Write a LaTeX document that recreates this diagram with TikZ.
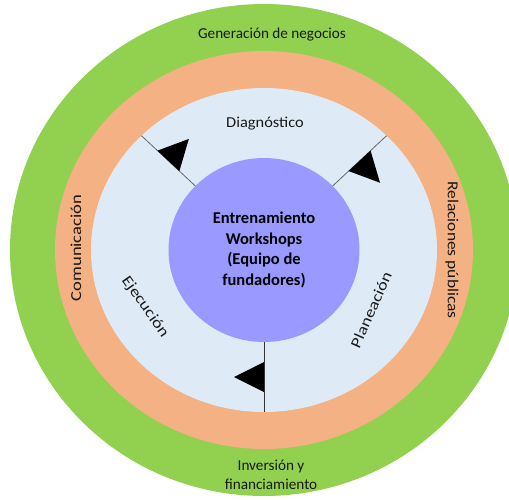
\documentclass[tikz,border=0pt]{standalone}
\usepackage{fontspec}
\setmainfont{Carlito}
\usetikzlibrary{shapes.geometric,calc}
\definecolor{ringgreen}{HTML}{92D050}
\definecolor{ringorange}{HTML}{F4B183}
\definecolor{ringblue}{HTML}{DEEBF7}
\definecolor{corepurple}{HTML}{9999FF}

\begin{document}
\begin{tikzpicture}[x=1pt, y=1pt,
		ringtext/.style={font=\fontsize{15.2}{19}\selectfont, text=black!90, inner sep=0pt, align=center},
		disc/.style={ellipse, inner sep=0pt, outer sep=0pt},
		spoke/.style={black!60, line width=0.8pt},
		flag/.style={fill=black}]
			\useasboundingbox (-264,-249) rectangle (245,250);
			\fill[ringgreen] (0,0) ellipse [x radius=254, y radius=246];
			\fill[ringorange] (0,0) ellipse [x radius=209, y radius=199];
			\node[disc, fill=ringblue, minimum width=346pt, minimum height=324pt] (phases) at (0,0) {};
			\node[disc, fill=corepurple, minimum width=191pt, minimum height=184pt, align=center, font=\bfseries\fontsize{16.5}{20.5}\selectfont] (core) at (0,0) {Entrenamiento\\Workshops\\(Equipo de\\fundadores)};
			% spokes with half arrows
			\draw[spoke] (core.137) -- coordinate (m1) (phases.137);
			\draw[spoke] (core.43) -- coordinate (m2) (phases.43);
			\draw[spoke, black!80] (core.270) -- coordinate (m3) (phases.270);
			\fill[flag] ($(m1)!15pt!(phases.137)$) -- ($(m1)!15pt!(core.137)$) -- ($(m1)!30pt!-90:(phases.137)$) -- cycle;
			\fill[flag] ($(m2)!15pt!(phases.43)$) -- ($(m2)!15pt!(core.43)$) -- ($(m2)!30pt!-90:(phases.43)$) -- cycle;
			\fill[flag] ($(m3)!15pt!(phases.270)$) -- ($(m3)!15pt!(core.270)$) -- ($(m3)!30pt!-90:(phases.270)$) -- cycle;
			% phase labels
			\node[ringtext, xscale=1.08] (diag) at (1,126) {Diagnóstico};
			\node[ringtext, rotate=-55, xscale=1.2] (ejec) at (-119,-57) {Ejecución};
			\node[ringtext, rotate=66, xscale=1.2] (plan) at (107,-60) {Planeación};
			% outer labels
			\node[ringtext, rotate=90, xscale=1.22] (comu) at (-188,2) {Comunicación};
			\node[ringtext, rotate=-90, xscale=1.15] (rel) at (188,0) {Relaciones públicas};
			\node[ringtext] (gen) at (8,215) {Generación de negocios};
			\node[ringtext] (inv) at (7,-225) {Inversión y\\financiamiento};
		\end{tikzpicture}
\end{document}
